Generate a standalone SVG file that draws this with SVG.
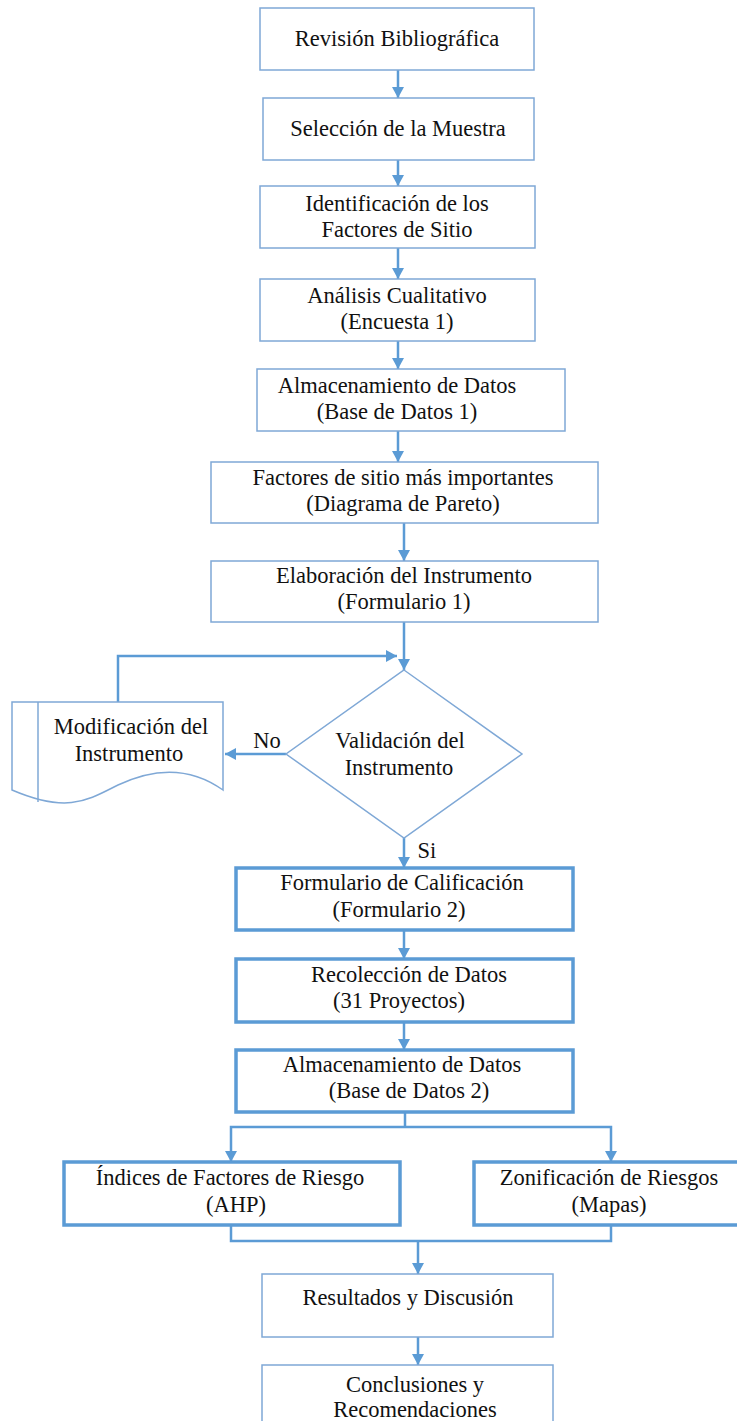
<svg xmlns="http://www.w3.org/2000/svg" width="737" height="1421" viewBox="0 0 737 1421">
<style>
.thin{fill:#fff;stroke:#7fa8d6;stroke-width:1.5}
.thick{fill:#fff;stroke:#5b9bd5;stroke-width:3.5}
.t{font-family:"Liberation Serif","Times New Roman",serif;font-size:22.5px;fill:#111;text-anchor:middle}
.c{fill:none;stroke:#5b9bd5;stroke-width:2.5}
</style>
<defs>
<marker id="ah" viewBox="0 0 11 12" markerWidth="11" markerHeight="12" markerUnits="userSpaceOnUse" refX="11" refY="6" orient="auto">
<path d="M0,0 L11,6 L0,12 Z" fill="#5b9bd5"/>
</marker>
</defs>
<rect width="737" height="1421" fill="#fff"/>
<g id="connectors">
<path class="c" d="M398,70 V98" marker-end="url(#ah)"/>
<path class="c" d="M398,160 V186" marker-end="url(#ah)"/>
<path class="c" d="M398,248 V279" marker-end="url(#ah)"/>
<path class="c" d="M398,341 V369" marker-end="url(#ah)"/>
<path class="c" d="M398,431 V462" marker-end="url(#ah)"/>
<path class="c" d="M404,523 V561" marker-end="url(#ah)"/>
<path class="c" d="M404,622 V670" marker-end="url(#ah)"/>
<path class="c" d="M118,702 V656 H397" marker-end="url(#ah)"/>
<path class="c" d="M286,754 H225" marker-end="url(#ah)"/>
<path class="c" d="M404,838 V868" marker-end="url(#ah)"/>
<path class="c" d="M404,930 V959" marker-end="url(#ah)"/>
<path class="c" d="M404,1022 V1050" marker-end="url(#ah)"/>
<path class="c" d="M405,1112 V1127"/>
<path class="c" d="M405,1127 H231 V1162" marker-end="url(#ah)"/>
<path class="c" d="M405,1127 H611 V1162" marker-end="url(#ah)"/>
<path class="c" d="M231,1225 V1241 H611 V1225"/>
<path class="c" d="M418,1241 V1274" marker-end="url(#ah)"/>
<path class="c" d="M418,1337 V1365" marker-end="url(#ah)"/>
</g>
<g id="n1"><rect class="thin" x="260" y="8" width="274" height="62"/><text class="t" x="397" y="46">Revisión Bibliográfica</text></g>
<g id="n2"><rect class="thin" x="263" y="98" width="271" height="62"/><text class="t" x="398" y="136">Selección de la Muestra</text></g>
<g id="n3"><rect class="thin" x="260" y="186" width="275" height="62"/><text class="t" x="397" y="211">Identificación de los</text><text class="t" x="397" y="237">Factores de Sitio</text></g>
<g id="n4"><rect class="thin" x="260" y="279" width="275" height="62"/><text class="t" x="397" y="303">Análisis Cualitativo</text><text class="t" x="397" y="329">(Encuesta 1)</text></g>
<g id="n5"><rect class="thin" x="257" y="369" width="308" height="62"/><text class="t" x="397" y="393">Almacenamiento de Datos</text><text class="t" x="397" y="419">(Base de Datos 1)</text></g>
<g id="n6"><rect class="thin" x="211" y="462" width="387" height="61"/><text class="t" x="403" y="485">Factores de sitio más importantes</text><text class="t" x="403" y="511">(Diagrama de Pareto)</text></g>
<g id="n7"><rect class="thin" x="211" y="561" width="387" height="61"/><text class="t" x="404" y="583">Elaboración del Instrumento</text><text class="t" x="404" y="609">(Formulario 1)</text></g>
<g id="n8"><path class="thin" d="M404,670 L522,754 L404,838 L286,754 Z"/><text class="t" x="400" y="748">Validación del</text><text class="t" x="399" y="775">Instrumento</text></g>
<g id="n9"><path class="thin" d="M12,702 H223 V790 C195,770 160,765 118,785 C88,800 68,814 12,790 Z"/><path class="thin" d="M38,702 V802"/><text class="t" x="131" y="734">Modificación del</text><text class="t" x="129" y="761">Instrumento</text></g>
<text class="t" x="267" y="748">No</text>
<text class="t" x="427" y="858">Si</text>
<g id="n10"><rect class="thick" x="236" y="868" width="337" height="62"/><text class="t" x="402" y="890">Formulario de Calificación</text><text class="t" x="399" y="917">(Formulario 2)</text></g>
<g id="n11"><rect class="thick" x="236" y="959" width="337" height="63"/><text class="t" x="409" y="982">Recolección de Datos</text><text class="t" x="399" y="1008">(31 Proyectos)</text></g>
<g id="n12"><rect class="thick" x="236" y="1050" width="337" height="62"/><text class="t" x="402" y="1072">Almacenamiento de Datos</text><text class="t" x="409" y="1098">(Base de Datos 2)</text></g>
<g id="n13"><rect class="thick" x="64" y="1162" width="336" height="63"/><text class="t" x="230" y="1185">Índices de Factores de Riesgo</text><text class="t" x="236" y="1212">(AHP)</text></g>
<g id="n14"><rect class="thick" x="474" y="1162" width="266" height="63"/><text class="t" x="609" y="1185">Zonificación de Riesgos</text><text class="t" x="609" y="1212">(Mapas)</text></g>
<g id="n15"><rect class="thin" x="262" y="1274" width="291" height="63"/><text class="t" x="408" y="1305">Resultados y Discusión</text></g>
<g id="n16"><rect class="thin" x="262" y="1365" width="291" height="70"/><text class="t" x="415" y="1392">Conclusiones y</text><text class="t" x="415" y="1417">Recomendaciones</text></g>
</svg>
